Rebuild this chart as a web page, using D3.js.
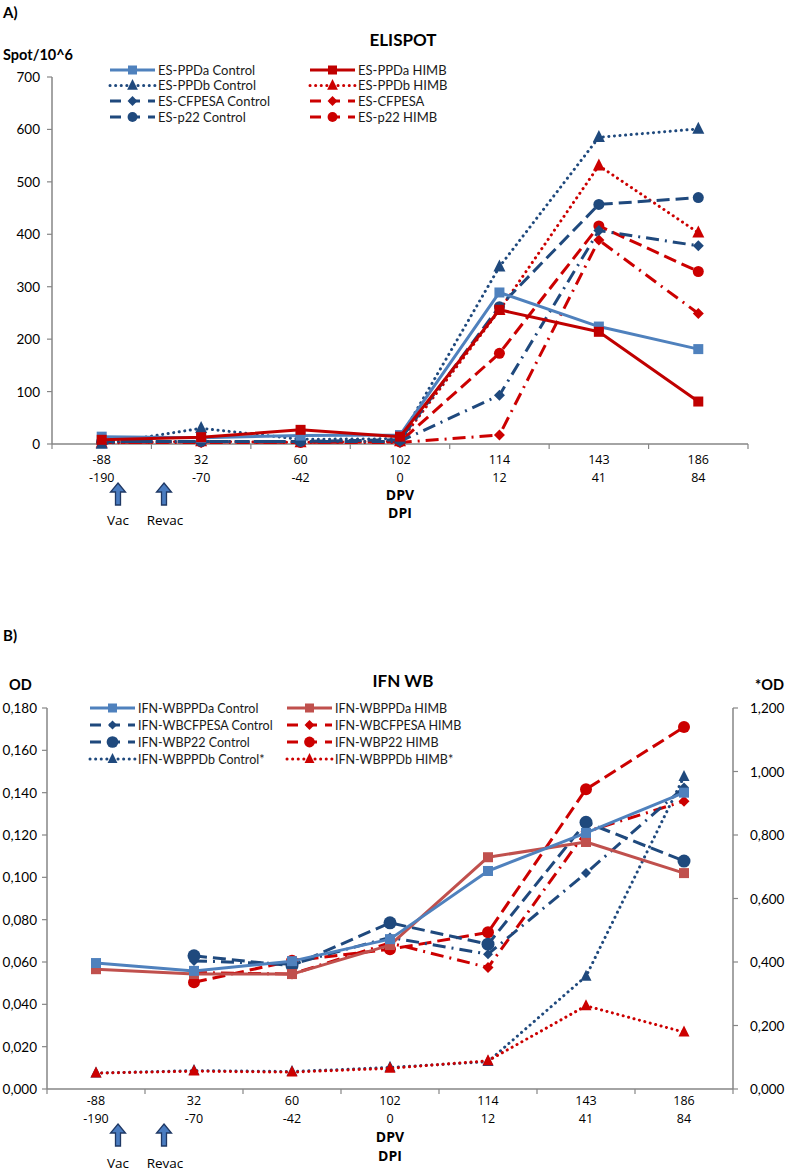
<!DOCTYPE html>
<html><head><meta charset="utf-8">
<script src="https://cdnjs.cloudflare.com/ajax/libs/d3/7.8.5/d3.min.js"></script>
<style>
body{margin:0;background:#fff;}
svg{display:block;font-family:Lato,"Open Sans",sans-serif;}
</style></head><body>
<svg id="c" width="787" height="1172"></svg>
<script>
// ---------- DATA ----------
const dpv = ["-88","32","60","102","114","143","186"];
const dpi = ["-190","-70","-42","0","12","41","84"];
const ticksA = [0,100,200,300,400,500,600,700];
const ticksBLeft = [0,0.02,0.04,0.06,0.08,0.10,0.12,0.14,0.16,0.18];
const ticksBRight = [0,0.2,0.4,0.6,0.8,1.0,1.2];

// Chart A (ELISPOT, Spot/10^6)
const esPPDaControl  = [14, 12, 16, 17, 289, 224, 181];
const esPPDbControl  = [0, 30, 9, 10, 338, 585, 601];
const esCFPESAControl= [5, 5, 5, 5, 93, 407, 378];
const esP22Control   = [5, 5, 5, 8, 262, 457, 470];
const esPPDaHIMB     = [8, 13, 27, 14, 256, 214, 81];
const esPPDbHIMB     = [2, 5, 3, 5, 255, 531, 403];
const esCFPESAHIMB   = [3, 3, 3, 3, 17, 389, 249];
const esP22HIMB      = [3, 4, 3, 4, 173, 416, 329];

// Chart B (IFN WB, OD) left axis
const wbPPDaControl   = [0.0595, 0.0558, 0.0604, 0.0708, 0.103, 0.121, 0.140];
const wbCFPESAControl = [null, 0.0605, 0.059, 0.0716, 0.0637, 0.102, 0.1425];
const wbP22Control    = [null, 0.0629, 0.0582, 0.0785, 0.0684, 0.126, 0.1077];
const wbPPDaHIMB      = [0.0566, 0.0543, 0.0543, 0.068, 0.1095, 0.1167, 0.102];
const wbCFPESAHIMB    = [null, 0.055, 0.0543, 0.069, 0.0574, 0.1215, 0.136];
const wbP22HIMB       = [null, 0.0504, 0.0606, 0.066, 0.074, 0.1416, 0.171];
// Chart B right axis (*OD)
const wbPPDbControl   = [0.050, 0.058, 0.055, 0.068, 0.086, 0.355, 0.984];
const wbPPDbHIMB      = [0.050, 0.056, 0.053, 0.065, 0.089, 0.262, 0.179];

// ---------- STYLES ----------
const LB = "#4F81BD", DB = "#1F497D", RD = "#CC0000", RS = "#C00000", BR = "#C0504D";
const dash = {solid:null, dot:"0.1,5.5", dash:"13,6", dashdot:"13,6,2,6"};

const svg = d3.select("#c");
const axisGray = "#868686";

function arrow(g, cx, y0){
  const w=10,h=22,hw=5,hh=9;
  const p = `M${cx},${y0} L${cx+w/2+hw/2},${y0+hh} L${cx+w/4},${y0+hh} L${cx+w/4},${y0+h} L${cx-w/4},${y0+h} L${cx-w/4},${y0+hh} L${cx-w/2-hw/2},${y0+hh} Z`;
  g.append("path").attr("d",p).attr("fill","#4A7CC0").attr("stroke","#1F3864").attr("stroke-width",1.3);
}

function marker(g, type, x, y, color, size){
  const s = size;
  if(type==="square") g.append("rect").attr("x",x-s/2).attr("y",y-s/2).attr("width",s).attr("height",s).attr("fill",color);
  else if(type==="circle") g.append("circle").attr("cx",x).attr("cy",y).attr("r",s/2).attr("fill",color);
  else if(type==="diamond") g.append("path").attr("d",`M${x},${y-s/2} L${x+s/2},${y} L${x},${y+s/2} L${x-s/2},${y} Z`).attr("fill",color);
  else if(type==="triangle") g.append("path").attr("d",`M${x},${y-s*0.6} L${x+s/2},${y+s*0.4} L${x-s/2},${y+s*0.4} Z`).attr("fill",color);
}

function drawSeries(g, x, y, vals, st){
  const cx = c => x(c) + x.bandwidth()/2;
  const pts = dpv.map((c,i)=>({c, v:vals[i]})).filter(d=>d.v!==null);
  const line = d3.line().x(d=>cx(d.c)).y(d=>y(d.v));
  g.append("path").attr("d",line(pts)).attr("fill","none").attr("stroke",st.color)
    .attr("stroke-width",st.w||3).attr("stroke-dasharray",dash[st.dash])
    .attr("stroke-linecap",st.dash==="dot"?"round":"butt").attr("stroke-linejoin","round");
  pts.forEach(d=>marker(g, st.m, cx(d.c), y(d.v), st.color, st.ms));
}

function legendItem(g, x1, yy, st, label, fs){
  g.append("line").attr("x1",x1).attr("x2",x1+45).attr("y1",yy).attr("y2",yy)
    .attr("stroke",st.color).attr("stroke-width",st.w||3)
    .attr("stroke-dasharray",st.dash==="dot"?"0.1,5.5":(st.dash==="solid"?null:"11,8"))
    .attr("stroke-linecap",st.dash==="dot"?"round":"butt");
  marker(g, st.m, x1+22.5, yy, st.color, st.ms*0.9);
  g.append("text").attr("x",x1+48).attr("y",yy+4.5).attr("font-size",fs).attr("fill","#1a1a1a").text(label);
}

function xAxisBlock(g, x, yAxis, x0, x1, rowsY, arrowsY, vacY){
  const cx = c => x(c) + x.bandwidth()/2;
  g.append("line").attr("x1",x0).attr("x2",x1).attr("y1",yAxis).attr("y2",yAxis).attr("stroke",axisGray).attr("stroke-width",1.5);
  const bw = x.step();
  for(let i=0;i<=dpv.length;i++){
    const xx = x0 + i*bw;
    g.append("line").attr("x1",xx).attr("x2",xx).attr("y1",yAxis).attr("y2",yAxis+5).attr("stroke",axisGray).attr("stroke-width",1.2);
  }
  const tf = "'Liberation Sans Narrow','Open Sans',sans-serif";
  dpv.forEach((c,i)=>{
    g.append("text").attr("x",cx(c)).attr("y",rowsY[0]).attr("text-anchor","middle").attr("font-size",12.5).attr("font-family",tf).text(c);
    g.append("text").attr("x",cx(c)).attr("y",rowsY[1]).attr("text-anchor","middle").attr("font-size",12.5).attr("font-family",tf).text(dpi[i]);
  });
  g.append("text").attr("x",cx("102")).attr("y",rowsY[2]).attr("text-anchor","middle").attr("font-size",14).attr("font-weight","bold").attr("font-family",tf).text("DPV");
  g.append("text").attr("x",cx("102")).attr("y",rowsY[3]).attr("text-anchor","middle").attr("font-size",14).attr("font-weight","bold").attr("font-family",tf).text("DPI");
  arrow(g,118,arrowsY); arrow(g,164,arrowsY);
  g.append("text").attr("x",118).attr("y",vacY).attr("text-anchor","middle").attr("font-size",13.5).attr("font-family",tf).text("Vac");
  g.append("text").attr("x",165).attr("y",vacY).attr("text-anchor","middle").attr("font-size",13.5).attr("font-family",tf).text("Revac");
}

// ---------- CHART A ----------
{
  const g = svg.append("g");
  const x = d3.scaleBand().domain(dpv).range([52,748]);
  const y = d3.scaleLinear().domain([0,700]).range([444,77]);
  g.append("text").attr("x",3).attr("y",18).attr("font-size",15).attr("font-weight","bold").text("A)");
  g.append("text").attr("x",403).attr("y",46).attr("text-anchor","middle").attr("font-size",17).attr("font-weight","bold").text("ELISPOT");
  g.append("text").attr("x",3).attr("y",60).attr("font-size",14.5).attr("font-weight","bold").text("Spot/10^6");
  g.append("line").attr("x1",52).attr("x2",52).attr("y1",77).attr("y2",444).attr("stroke",axisGray).attr("stroke-width",1.5);
  ticksA.forEach(t=>{
    g.append("line").attr("x1",47).attr("x2",52).attr("y1",y(t)).attr("y2",y(t)).attr("stroke",axisGray).attr("stroke-width",1.2);
    g.append("text").attr("x",40).attr("y",y(t)+5).attr("text-anchor","end").attr("font-size",13.5).text(t);
  });
  xAxisBlock(g, x, 444, 52, 748, [464,482,500,518], 483, 525);

  const S = {
    pa:{color:LB,dash:"solid",m:"square",ms:10},
    pb:{color:DB,dash:"dot",m:"triangle",ms:12},
    cf:{color:DB,dash:"dashdot",m:"diamond",ms:11},
    p22:{color:DB,dash:"dash",m:"circle",ms:11},
    paH:{color:RS,dash:"solid",m:"square",ms:10},
    pbH:{color:RD,dash:"dot",m:"triangle",ms:12},
    cfH:{color:RD,dash:"dashdot",m:"diamond",ms:11},
    p22H:{color:RD,dash:"dash",m:"circle",ms:11}
  };
  drawSeries(g,x,y,esCFPESAHIMB,S.cfH);
  drawSeries(g,x,y,esP22HIMB,S.p22H);
  drawSeries(g,x,y,esPPDbHIMB,S.pbH);
  drawSeries(g,x,y,esCFPESAControl,S.cf);
  drawSeries(g,x,y,esP22Control,S.p22);
  drawSeries(g,x,y,esPPDbControl,S.pb);
  drawSeries(g,x,y,esPPDaControl,S.pa);
  drawSeries(g,x,y,esPPDaHIMB,S.paH);

  const lg = g.append("g");
  legendItem(lg,110,70,S.pa,"ES-PPDa Control",13);
  legendItem(lg,110,85.5,S.pb,"ES-PPDb Control",13);
  legendItem(lg,110,101,S.cf,"ES-CFPESA Control",13);
  legendItem(lg,110,117,S.p22,"ES-p22 Control",13);
  legendItem(lg,310,70,S.paH,"ES-PPDa HIMB",13);
  legendItem(lg,310,85.5,S.pbH,"ES-PPDb HIMB",13);
  legendItem(lg,310,101,S.cfH,"ES-CFPESA",13);
  legendItem(lg,310,117,S.p22H,"ES-p22 HIMB",13);
}

// ---------- CHART B ----------
{
  const g = svg.append("g");
  const x = d3.scaleBand().domain(dpv).range([47,733]);
  const yL = d3.scaleLinear().domain([0,0.18]).range([1089,708]);
  const yR = d3.scaleLinear().domain([0,1.2]).range([1089,708]);
  const fmt = v => d3.format(".3f")(v).replace(".",",");
  g.append("text").attr("x",3).attr("y",641).attr("font-size",15).attr("font-weight","bold").text("B)");
  g.append("text").attr("x",403).attr("y",687).attr("text-anchor","middle").attr("font-size",17).attr("font-weight","bold").text("IFN WB");
  g.append("text").attr("x",9).attr("y",690).attr("font-size",14.5).attr("font-weight","bold").text("OD");
  g.append("text").attr("x",755).attr("y",690).attr("font-size",14.5).attr("font-weight","bold").text("*OD");
  g.append("line").attr("x1",47).attr("x2",47).attr("y1",708).attr("y2",1089).attr("stroke",axisGray).attr("stroke-width",1.5);
  g.append("line").attr("x1",733).attr("x2",733).attr("y1",708).attr("y2",1089).attr("stroke",axisGray).attr("stroke-width",1.5);
  ticksBLeft.forEach(t=>{
    g.append("line").attr("x1",42).attr("x2",47).attr("y1",yL(t)).attr("y2",yL(t)).attr("stroke",axisGray).attr("stroke-width",1.2);
    g.append("text").attr("x",37).attr("y",yL(t)+5).attr("text-anchor","end").attr("font-size",13.5).text(fmt(t));
  });
  ticksBRight.forEach(t=>{
    g.append("line").attr("x1",733).attr("x2",738).attr("y1",yR(t)).attr("y2",yR(t)).attr("stroke",axisGray).attr("stroke-width",1.2);
    g.append("text").attr("x",750).attr("y",yR(t)+5).attr("text-anchor","start").attr("font-size",13.5).text(fmt(t));
  });
  xAxisBlock(g, x, 1089, 47, 733, [1105,1123,1142,1161], 1124, 1168);

  const S = {
    pa:{color:LB,dash:"solid",m:"square",ms:10},
    cf:{color:DB,dash:"dashdot",m:"diamond",ms:10},
    p22:{color:DB,dash:"dash",m:"circle",ms:13},
    pb:{color:DB,dash:"dot",m:"triangle",ms:11},
    paH:{color:BR,dash:"solid",m:"square",ms:10},
    cfH:{color:RD,dash:"dashdot",m:"diamond",ms:11},
    p22H:{color:RD,dash:"dash",m:"circle",ms:12},
    pbH:{color:RD,dash:"dot",m:"triangle",ms:11}
  };
  drawSeries(g,x,yR,wbPPDbControl,S.pb);
  drawSeries(g,x,yR,wbPPDbHIMB,S.pbH);
  drawSeries(g,x,yL,wbCFPESAHIMB,S.cfH);
  drawSeries(g,x,yL,wbP22HIMB,S.p22H);
  drawSeries(g,x,yL,wbCFPESAControl,S.cf);
  drawSeries(g,x,yL,wbP22Control,S.p22);
  drawSeries(g,x,yL,wbPPDaHIMB,S.paH);
  drawSeries(g,x,yL,wbPPDaControl,S.pa);

  const lg = g.append("g");
  legendItem(lg,90,708,S.pa,"IFN-WBPPDa Control",12.5);
  legendItem(lg,90,725,S.cf,"IFN-WBCFPESA Control",12.5);
  legendItem(lg,90,742,S.p22,"IFN-WBP22 Control",12.5);
  legendItem(lg,90,759,S.pb,"IFN-WBPPDb Control*",12.5);
  legendItem(lg,287,708,S.paH,"IFN-WBPPDa HIMB",12.5);
  legendItem(lg,287,725,S.cfH,"IFN-WBCFPESA HIMB",12.5);
  legendItem(lg,287,742,S.p22H,"IFN-WBP22 HIMB",12.5);
  legendItem(lg,287,759,S.pbH,"IFN-WBPPDb HIMB*",12.5);
}
</script>
</body></html>
